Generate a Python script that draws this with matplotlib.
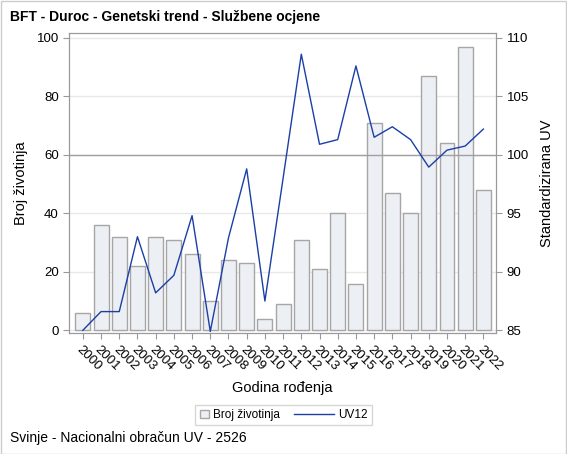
import numpy as np
import matplotlib.pyplot as plt
from matplotlib.patches import Rectangle
from matplotlib.lines import Line2D
from matplotlib.legend_handler import HandlerPatch, HandlerBase

years = [str(y) for y in range(2000, 2023)]
broj = [6, 36, 32, 22, 32, 31, 26, 10, 24, 23, 4, 9, 31, 21, 40, 16, 71, 47, 40, 87, 64, 97, 48]
uv12 = [85.0, 86.6, 86.6, 93.0, 88.2, 89.7, 94.8, 84.9, 92.9, 98.8, 87.5, 98.0,
        108.6, 100.9, 101.3, 107.6, 101.5, 102.4, 101.3, 98.95, 100.4, 100.75, 102.2]

plt.rcParams['font.family'] = ['Liberation Sans', 'DejaVu Sans']
plt.rcParams['font.size'] = 9.5


def square_patch(legend, orig_handle, xdescent, ydescent, width, height, fontsize):
    s = min(width, height) * 0.95
    return Rectangle((-xdescent + (width - s) / 2, -ydescent + (height - s) / 2), s, s)


class LongLine(HandlerBase):
    # line sample that reaches back into the column gap
    def create_artists(self, legend, orig_handle, xdescent, ydescent, width, height,
                       fontsize, trans):
        y = height / 2 - ydescent
        ln = Line2D([-xdescent - 22, width - xdescent], [y, y],
                    color=orig_handle.get_color(), linewidth=1, transform=trans)
        return [ln]


fig = plt.figure(figsize=(5.67, 4.54), dpi=100)
ax = fig.add_axes([0.122, 0.266, 0.753, 0.661])
x = np.arange(len(years))

# bars on the left axis
bar_color = '#eceff4'
bar_edge = '#a6a6a6'
ax.bar(x, broj, width=0.82, color=bar_color, edgecolor=bar_edge, linewidth=1, zorder=2)
ax.set_ylim(-1.0, 101.6)
ax.set_xlim(-0.75, len(years) - 0.3)
ax.set_yticks([0, 20, 40, 60, 80, 100])
ax.yaxis.grid(True, color='#e8e8e8', linewidth=1, zorder=0)
ax.set_axisbelow(True)
ax.set_xticks(x)
ax.set_xticklabels(years, rotation=-45, ha='left', rotation_mode='anchor')
ax.set_ylabel('Broj životinja', fontsize=10.5, labelpad=6)
ax.set_xlabel('Godina rođenja', fontsize=10.5, labelpad=6)

# line on the right axis
ax2 = ax.twinx()
lo, hi = ax.get_ylim()
ax2.set_ylim(85 + 0.25 * lo, 85 + 0.25 * hi)
ax2.set_yticks([85, 90, 95, 100, 105, 110])
ax2.axhline(100, color='#a0a0a0', linewidth=1, zorder=1)
line, = ax2.plot(x, uv12, color='#1a3fa6', linewidth=1, zorder=3)
ax2.set_ylabel('Standardizirana UV', fontsize=10.5, labelpad=8)

for a in (ax, ax2):
    for s in a.spines.values():
        s.set_color('#999999')
    a.tick_params(colors='#999999', labelcolor='black', length=4, labelsize=9.5)

box = Rectangle((0, 0), 1, 1, facecolor=bar_color, edgecolor=bar_edge, linewidth=1)
leg = fig.legend([box, line], ['Broj životinja', 'UV12'], loc='center',
                 bbox_to_anchor=(0.5, 0.086), ncol=2,
                 frameon=True, fancybox=False, edgecolor='#cccccc', fontsize=8.5,
                 handlelength=0.8, handleheight=0.8, columnspacing=3.85, borderpad=0.35,
                 handletextpad=0.3,
                 handler_map={Rectangle: HandlerPatch(patch_func=square_patch),
                              Line2D: LongLine()})
leg.get_frame().set_linewidth(1)

fig.text(0.018, 0.962, 'BFT - Duroc - Genetski trend - Službene ocjene', fontsize=10,
         fontweight='bold', va='center')
fig.text(0.018, 0.036, 'Svinje - Nacionalni obračun UV - 2526', fontsize=10, va='center')

fig.patches.append(Rectangle((0.001, 0.001), 0.997, 0.997, transform=fig.transFigure,
                             fill=False, edgecolor='#cccccc', linewidth=1))

fig.savefig('out.png', dpi=100)
